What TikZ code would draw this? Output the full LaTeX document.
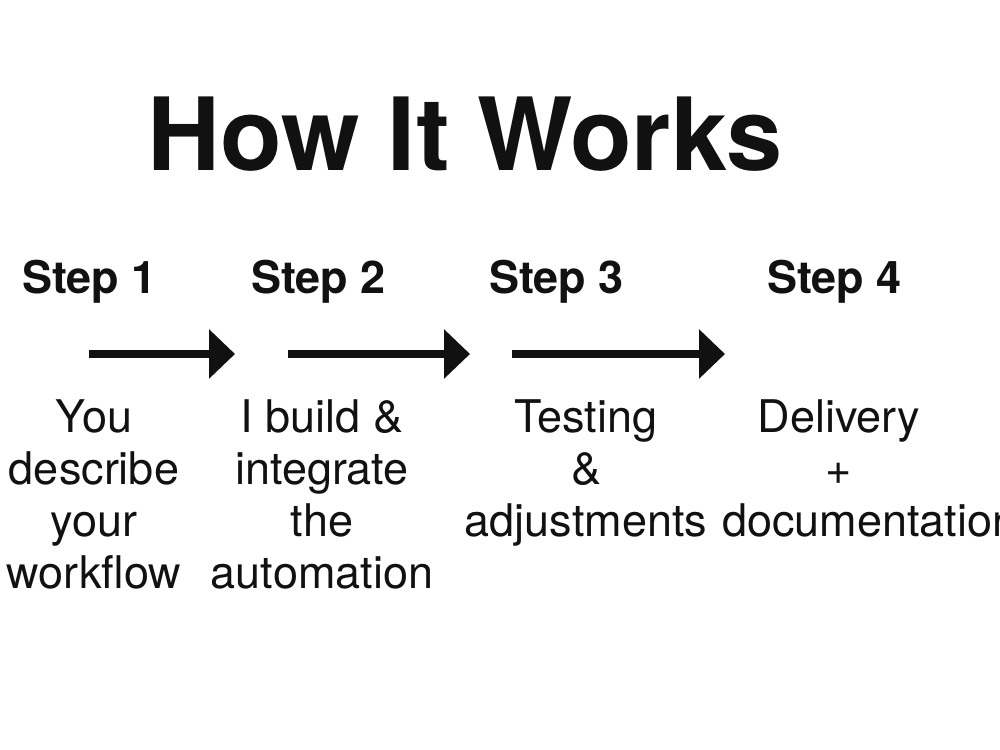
\documentclass[tikz,border=0pt]{standalone}
\usepackage{fontspec}
\setmainfont{TeX Gyre Heros}
\usetikzlibrary{arrows.meta}
\definecolor{ink}{HTML}{111111}
\begin{document}
\begin{tikzpicture}[x=1pt,y=-1pt,
  titlestyle/.style={font=\fontsize{101}{110}\selectfont\bfseries, text=ink, inner sep=0pt, anchor=base},
  steplabel/.style={font=\fontsize{45}{52}\selectfont\bfseries, text=ink, inner sep=0pt, anchor=base},
  bodytext/.style={font=\fontsize{45}{52}\selectfont, text=ink, inner sep=0pt, anchor=north, align=center},
  flowarrow/.style={draw=ink, line width=8pt, -{Triangle[length=26pt,width=48pt]}}
]
\useasboundingbox[fill=white] (0,0) rectangle (1000,749);

\node[titlestyle] (title) at (465,170) {How It Works};

\node[steplabel] (s1) at (89.5,293) {Step 1};
\node[steplabel] (s2) at (318.5,293) {Step 2};
\node[steplabel] (s3) at (556.5,293) {Step 3};
\node[steplabel] (s4) at (834.5,293) {Step 4};

\coordinate (a1s) at (89,354);
\coordinate (a1e) at (235,354);
\coordinate (a2s) at (288,354);
\coordinate (a2e) at (470,354);
\coordinate (a3s) at (512,354);
\coordinate (a3e) at (725,354);
\draw[flowarrow] (a1s) -- (a1e);
\draw[flowarrow] (a2s) -- (a2e);
\draw[flowarrow] (a3s) -- (a3e);

\node[bodytext] (d1) at (94,392) {\rule{0pt}{40pt}You\\describe\\your\\workflow};
\node[bodytext] (d2) at (322,392) {\rule{0pt}{40pt}I build \&\\integrate\\the\\automation};
\node[bodytext] (d3) at (586,392) {\rule{0pt}{40pt}Testing\\\&\\adjustments};
\node[bodytext] (d4) at (839,392) {\rule{0pt}{40pt}Delivery\\+\\\makebox[234pt][l]{documentation}};
\end{tikzpicture}
\end{document}
